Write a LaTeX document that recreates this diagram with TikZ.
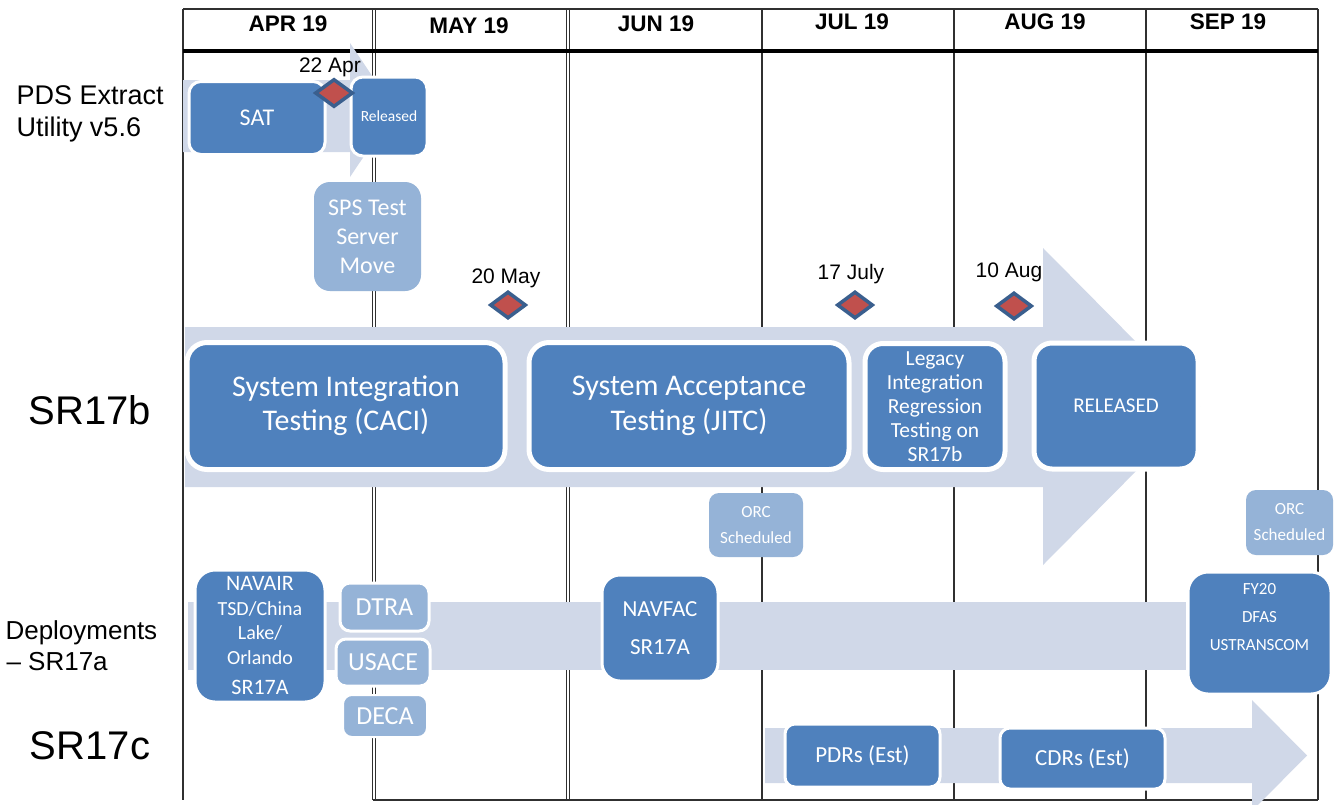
\documentclass[tikz,border=0pt]{standalone}
\usepackage{fontspec}
\setmainfont{Liberation Sans}
\newfontfamily\carl{Carlito}
\usetikzlibrary{shapes.geometric}
\definecolor{dblue}{HTML}{4F81BD}
\definecolor{lblue}{HTML}{95B3D7}
\definecolor{bandc}{HTML}{D0D8E8}
\definecolor{mred}{HTML}{C0504D}
\definecolor{mborder}{HTML}{3A5F8E}
\definecolor{gridc}{HTML}{303030}
\newcommand\myfs[2]{\fontsize{#1}{#2}\selectfont}
\begin{document}
\begin{tikzpicture}[x=1pt,y=-1pt,
  box/.style={draw=white, line width=3pt, text=white, align=center, inner sep=0pt, rounded corners=12pt},
  dbox/.style={box, fill=dblue},
  lbox/.style={box, fill=lblue},
  ms/.style={diamond, draw=mborder, fill=mred, line width=3.5pt, minimum width=36pt, minimum height=27pt, inner sep=0pt},
  mslabel/.style={font=\myfs{21}{24}},
  month/.style={font=\bfseries\myfs{22.5}{26}},
  rowlabel/.style={font=\myfs{27}{32}, align=left, anchor=west},
  biglabel/.style={font=\myfs{40}{44}},
  gridline/.style={draw=gridc, line width=1.5pt},
  dline/.style={draw=gridc, line width=1pt},
  bandfill/.style={fill=bandc, draw=none}]
\useasboundingbox (0,0) rectangle (1336,804);
\fill[white] (0,0) rectangle (1336,804);
% grid
\foreach \x in {183,762,954,1146,1318} \draw[gridline] (\x,9) -- (\x,800);
\foreach \x in {372.5,375,566.5,569} \draw[dline] (\x,8) -- (\x,800);
\draw[gridline] (183,9) -- (1318,9);
\draw[gridline] (373,800) -- (1318,800);
\draw[draw=black, line width=3.5pt] (183,51) -- (1318,51);
% months
\node[month] (apr) at (288,24) {APR 19};
\node[month] (may) at (469,26) {MAY 19};
\node[month] (jun) at (656,24) {JUN 19};
\node[month] (jul) at (852,22) {JUL 19};
\node[month] (aug) at (1045,22) {AUG 19};
\node[month] (sep) at (1228,22) {SEP 19};
% row labels
\node[rowlabel] (pds) at (13,114) {PDS Extract\\Utility v5.6};
\node[biglabel] (sr17b) at (90,410) {SR17b};
\node[rowlabel, font=\myfs{26}{31}] (dep) at (2,646) {Deployments\\\kern1pt– SR17a};
\node[biglabel] (sr17c) at (90,746) {SR17c};
% bands
\path[bandfill] (183,80) -- (350,80) -- (350,43) -- (395,110) -- (350,177) -- (350,152) -- (183,152) -- cycle;
\path[bandfill] (185,327) -- (1043,327) -- (1043,248) -- (1200,406.5) -- (1043,565) -- (1043,487) -- (185,487) -- cycle;
\path[bandfill] (188,602) rectangle (1186,670);
\path[bandfill] (765,728) -- (1252,728) -- (1252,700) -- (1307,755.5) -- (1252,811) -- (1252,783) -- (765,783) -- cycle;
% PDS
\node[dbox, minimum width=136pt, minimum height=73pt, font={\carl\myfs{24}{28}}] (sat) at (257,118) {SAT};
\node[dbox, minimum width=76pt, minimum height=79pt, font={\carl\myfs{15.5}{18}}] (rel1) at (389,116.5) {Released};
\node[ms, minimum width=38pt, minimum height=28pt] (m1) at (334,93) {};
\node[mslabel] (l1) at (330,67) {22 Apr};
\node[lbox, draw=none, rounded corners=16pt, minimum width=107pt, minimum height=109pt, font={\carl\myfs{24}{29}}] (sps) at (367.5,236.5) {SPS Test\\Server\\Move};
% SR17b
\node[dbox, line width=5pt, rounded corners=20pt, minimum width=318pt, minimum height=127pt, font={\carl\myfs{30}{34}}] (sit) at (346,406) {System Integration\\Testing (CACI)};
\node[dbox, line width=5pt, rounded corners=20pt, minimum width=320pt, minimum height=127pt, font={\carl\myfs{30}{35}}] (sat2) at (689,406) {System Acceptance\\Testing (JITC)};
\node[dbox, line width=5pt, rounded corners=18pt, minimum width=140pt, minimum height=126pt, font={\carl\myfs{21.5}{24}}] (leg) at (935,406.5) {Legacy\\Integration\\Regression\\Testing on\\SR17b};
\node[dbox, line width=5pt, rounded corners=18pt, minimum width=164pt, minimum height=126pt, font={\carl\myfs{21}{24}}] (rel2) at (1116,406) {RELEASED};
\node[ms] (m2) at (508,305) {};
\node[mslabel] (l2) at (506,278) {20 May};
\node[ms] (m3) at (855,305) {};
\node[mslabel] (l3) at (851,274) {17 July};
\node[ms] (m4) at (1014,306) {};
\node[mslabel] (l4) at (1009,272) {10 Aug};
\node[lbox, draw=none, rounded corners=10pt, minimum width=94pt, minimum height=64pt, font={\carl\myfs{17}{26}}] (orc1) at (756,525) {ORC\\Scheduled};
\node[lbox, draw=none, rounded corners=10pt, minimum width=87pt, minimum height=65pt, font={\carl\myfs{17}{26}}] (orc2) at (1289.5,522.5) {ORC\\Scheduled};
% Deployments
\node[dbox, rounded corners=20pt, minimum width=130pt, minimum height=132pt, font={\carl\myfs{20}{24.5}}] (navair) at (260,636) {{\myfs{22}{24.5}NAVAIR}\\TSD/China\\Lake/\\Orlando\\[6pt]{\myfs{22}{24.5}SR17A}};
\node[lbox, rounded corners=10pt, minimum width=89pt, minimum height=48pt, font={\carl\myfs{26}{30}}] (dtra) at (384.5,607) {DTRA};
\node[lbox, rounded corners=10pt, minimum width=94pt, minimum height=47pt, font={\carl\myfs{26}{30}}] (usace) at (383,662.5) {USACE};
\node[lbox, line width=2pt, rounded corners=9pt, minimum width=84pt, minimum height=42pt, font={\carl\myfs{26}{30}}] (deca) at (385,716) {DECA};
\node[dbox, rounded corners=18pt, minimum width=116pt, minimum height=106pt, font={\carl\myfs{23}{38}}] (navfac) at (660,628) {NAVFAC\\SR17A};
\node[dbox, rounded corners=20pt, minimum width=143pt, minimum height=122pt] (fy20) at (1259.5,633) {};
\node[text=white, align=center, font={\carl\myfs{17}{28}}] (fy20t) at (1259.5,617) {FY20\\DFAS\\USTRANSCOM};
% SR17c
\node[dbox, rounded corners=10pt, minimum width=155pt, minimum height=63pt, font={\carl\myfs{23}{27}}] (pdr) at (862.5,755.5) {PDRs (Est)};
\node[dbox, rounded corners=10pt, minimum width=165pt, minimum height=61pt, font={\carl\myfs{23}{27}}] (cdr) at (1082.5,758.5) {CDRs (Est)};
\end{tikzpicture}
\end{document}
